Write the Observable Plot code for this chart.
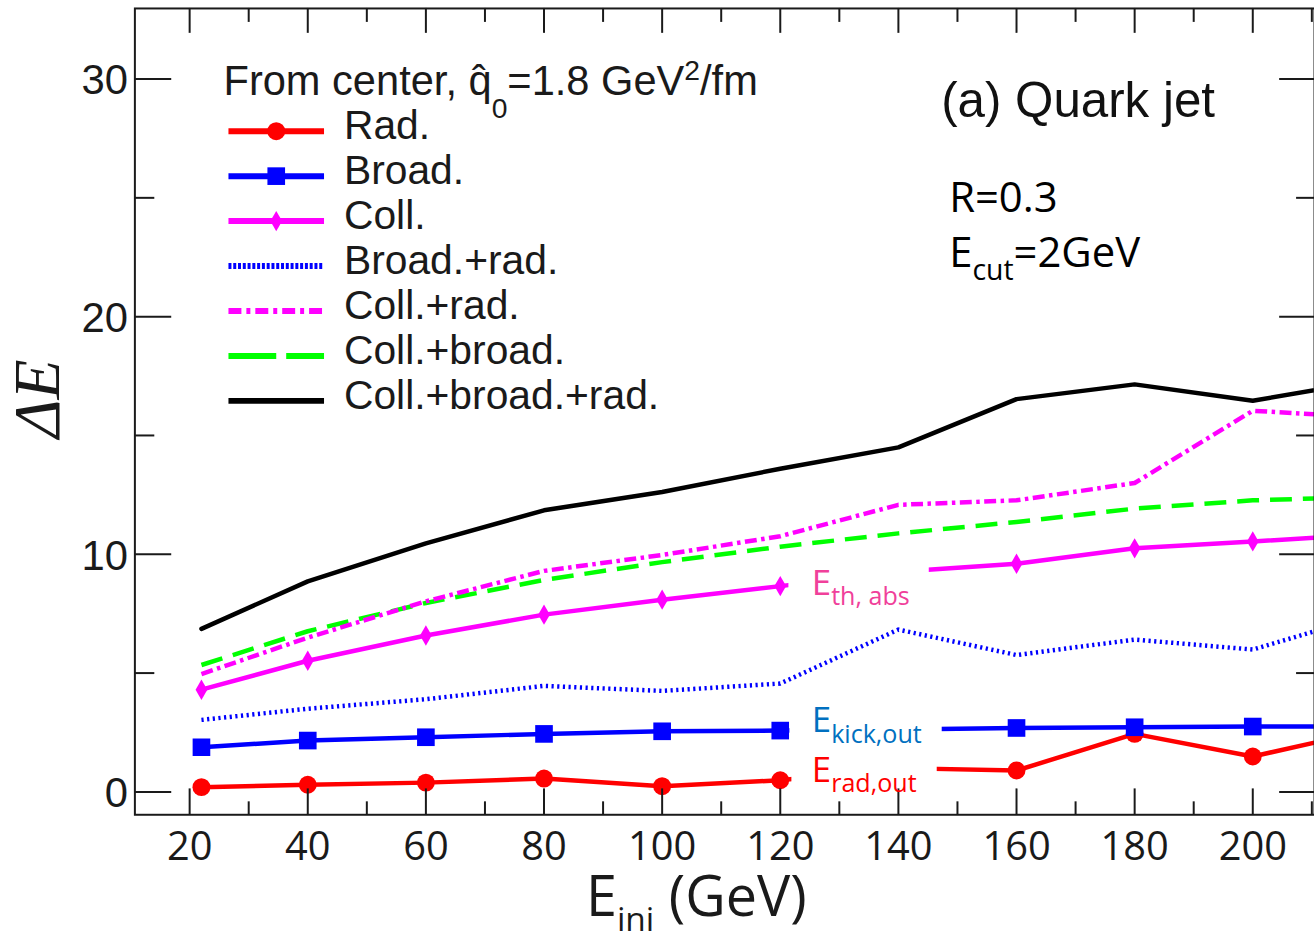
<!DOCTYPE html>
<html><head><meta charset="utf-8">
<script src="https://cdn.jsdelivr.net/npm/d3@7"></script>
<script src="https://cdn.jsdelivr.net/npm/@observablehq/plot@0.6"></script>
<style>
html,body{margin:0;padding:0;background:#fff;overflow:hidden;width:1314px;height:940px;}
#chart{position:relative;width:1314px;height:940px;overflow:hidden;}
</style></head><body><div id="chart"></div>
<script>
// ---- data ----
const energies      = [22, 40, 60, 80, 100, 120, 140, 160, 180, 200, 220];
const rad           = [0.20, 0.30, 0.39, 0.56, 0.24, 0.49, 1.00, 0.90, 2.44, 1.49, 2.61];
const broad         = [1.88, 2.16, 2.30, 2.44, 2.55, 2.58, 2.63, 2.69, 2.72, 2.75, 2.76];
const coll          = [4.30, 5.52, 6.58, 7.46, 8.09, 8.66, 9.26, 9.60, 10.25, 10.54, 10.83];
const broadRad      = [3.03, 3.50, 3.90, 4.46, 4.25, 4.56, 6.83, 5.76, 6.41, 5.99, 7.46];
const collRad       = [4.96, 6.49, 8.02, 9.30, 9.97, 10.76, 12.08, 12.27, 13.00, 16.04, 15.75];
const collBroad     = [5.34, 6.76, 7.95, 8.92, 9.67, 10.32, 10.88, 11.36, 11.92, 12.27, 12.42];
const collBroadRad  = [6.86, 8.86, 10.46, 11.85, 12.62, 13.60, 14.50, 16.53, 17.15, 16.46, 17.32];

const seriesNames = ["Rad.", "Broad.", "Coll.", "Broad.+rad.", "Coll.+rad.", "Coll.+broad.", "Coll.+broad.+rad."];
const seriesValues = [rad, broad, coll, broadRad, collRad, collBroad, collBroadRad];

const xTicks = [20, 40, 60, 80, 100, 120, 140, 160, 180, 200];
const xMinorTicks = [30, 50, 70, 90, 110, 130, 150, 170, 190, 210];
const xTickLabels = ["20", "40", "60", "80", "100", "120", "140", "160", "180", "200"];
const yTicks = [0, 10, 20, 30];
const yMinorTicks = [5, 15, 25];
const yTickLabels = ["0", "10", "20", "30"];

// ---- styles ----
const styles = [
  {stroke: "#ff0000", dash: null, legendDash: null, symbol: "circle", r: 9},
  {stroke: "#0000ff", dash: null, legendDash: null, symbol: "square", r: 10},
  {stroke: "#ff00ff", dash: null, legendDash: null, symbol: "diamond", r: 6.2},
  {stroke: "#0000ff", dash: "2.2,3.5", legendDash: "3,1.8", symbol: null},
  {stroke: "#ff00ff", dash: "12,4.5,3.5,4.5", legendDash: "13,5,4,5", symbol: null},
  {stroke: "#00ff00", dash: "22,11", legendDash: "48,10", symbol: null},
  {stroke: "#000000", dash: null, legendDash: null, symbol: null}
];
const drawOrder = [6, 5, 4, 3, 0, 1, 2];

// ---- layout ----
const W = 1320, H = 940, L = 135, R = W, T = 8, B = 818;
const xDomain = [10.73, 210.45];
const yDomain = [-0.963, 32.97];
const X = Plot.scale({x: {domain: xDomain, range: [L, R]}});
const Y = Plot.scale({y: {domain: yDomain, range: [B, T]}});
const ink = "#1a1a1a";

const rows = [];
seriesNames.forEach((name, i) => energies.forEach((e, j) => rows.push({series: i, name, E: e, v: seriesValues[i][j]})));

const marks = [];

// series lines and markers
for (const i of drawOrder) {
  const s = styles[i];
  const data = rows.filter(d => d.series === i);
  marks.push(Plot.line(data, {x: "E", y: "v", stroke: s.stroke, strokeWidth: 4.5,
    strokeDasharray: s.dash || undefined, strokeLinecap: s.dash ? "butt" : "round", clip: true}));
  if (s.symbol) marks.push(Plot.dot(data, {x: "E", y: "v", symbol: s.symbol, r: s.r, fill: s.stroke, stroke: "none", clip: true}));
}

// white boxes behind in-plot labels
const boxes = [[792, 933, 614, 562], [793, 946, 752, 705], [795, 941, 803, 756]];
for (const [a, b, c, d] of boxes)
  marks.push(Plot.rect([0], {x1: X.invert(a), x2: X.invert(b), y1: Y.invert(c), y2: Y.invert(d), fill: "white"}));

// frame & ticks
marks.push(Plot.frame({stroke: ink, strokeWidth: 2}));
const tk = {stroke: ink, strokeWidth: 2};
marks.push(Plot.ruleX(xTicks, {x: d => d, y1: Y.invert(B), y2: Y.invert(B - 26), ...tk}));
marks.push(Plot.ruleX(xMinorTicks, {x: d => d, y1: Y.invert(B), y2: Y.invert(B - 13), ...tk}));
marks.push(Plot.ruleX(xTicks, {x: d => d, y1: Y.invert(T), y2: Y.invert(T + 25), ...tk}));
marks.push(Plot.ruleX(xMinorTicks, {x: d => d, y1: Y.invert(T), y2: Y.invert(T + 14), ...tk}));
marks.push(Plot.ruleY(yTicks, {y: d => d, x1: X.invert(L), x2: X.invert(L + 37), ...tk}));
marks.push(Plot.ruleY(yMinorTicks, {y: d => d, x1: X.invert(L), x2: X.invert(L + 20), ...tk}));
marks.push(Plot.ruleY(yTicks, {y: d => d, x1: X.invert(R - 35), x2: X.invert(R), ...tk}));
marks.push(Plot.ruleY(yMinorTicks, {y: d => d, x1: X.invert(R - 18), x2: X.invert(R), ...tk}));

// tick labels
marks.push(Plot.text(xTicks, {x: d => d, text: (d, i) => xTickLabels[i], frameAnchor: "bottom", dy: 45,
  lineAnchor: "bottom", textAnchor: "middle", fontSize: 40, fontFamily: "Open Sans", fill: ink}));
marks.push(Plot.text(yTicks, {y: d => d, text: (d, i) => yTickLabels[i], frameAnchor: "left", dx: -7, dy: 15.5,
  lineAnchor: "bottom", textAnchor: "end", fontSize: 42, fontFamily: "Liberation Sans", fill: ink}));

// axis titles
marks.push(Plot.text(["ΔE"], {text: d => d, frameAnchor: "top-left", dx: 38 - L, dy: 400 - T, rotate: -90,
  textAnchor: "middle", lineAnchor: "middle", fontSize: 66, fontFamily: "Liberation Serif", fontStyle: "italic", fill: ink}));
marks.push(Plot.text(["E_{ini|0.6|0.27} (GeV)"], {text: d => d, frameAnchor: "top-left", dx: 699 - L, dy: 920 - T,
  textAnchor: "middle", lineAnchor: "bottom", fontSize: 56, fontFamily: "Open Sans", fill: ink}));

// legend
const legTitle = "From center, q\u0302_{0|0.68|0.54}=1.8 GeV^{2|0.68|0.37}/fm";
marks.push(Plot.text([legTitle], {text: d => d, frameAnchor: "top-left", dx: 224 - L, dy: 95 - T,
  textAnchor: "start", lineAnchor: "bottom", fontSize: 41.8, fontFamily: "Liberation Sans", fill: ink}));
const rowBase = i => 139 + i * 45.15;
seriesNames.forEach((name, i) => {
  const s = styles[i];
  const yy = Y.invert(rowBase(i) - 7.7);
  marks.push(Plot.link([0], {x1: X.invert(229), x2: X.invert(325), y1: yy, y2: yy, stroke: s.stroke, strokeWidth: 6,
    strokeDasharray: s.legendDash || undefined, strokeLinecap: "butt"}));
  if (s.symbol) marks.push(Plot.dot([0], {x: X.invert(277), y: yy, symbol: s.symbol, r: s.r, fill: s.stroke, stroke: "none"}));
  marks.push(Plot.text([name], {text: d => d, frameAnchor: "top-left", dx: 345 - L, dy: rowBase(i) - T,
    textAnchor: "start", lineAnchor: "bottom", fontSize: 41, fontFamily: "Liberation Sans", fill: ink}));
});

// annotations
marks.push(Plot.text(["(a) Quark jet"], {text: d => d, frameAnchor: "top-left", dx: 945 - L, dy: 117 - T,
  textAnchor: "start", lineAnchor: "bottom", fontSize: 49.5, fontFamily: "Liberation Sans", fill: "#111"}));
marks.push(Plot.text(["R=0.3"], {text: d => d, frameAnchor: "top-left", dx: 953 - L, dy: 212 - T,
  textAnchor: "start", lineAnchor: "bottom", fontSize: 42, fontFamily: "Open Sans", fill: "#000"}));
marks.push(Plot.text(["E_{cut|0.68|0.3}=2GeV"], {text: d => d, frameAnchor: "top-left", dx: 953 - L, dy: 268 - T,
  textAnchor: "start", lineAnchor: "bottom", fontSize: 42, fontFamily: "Open Sans", fill: "#000"}));
const labels = [["E_{th, abs|0.72|0.3}", "#f0409a", 597], ["E_{kick,out|0.72|0.3}", "#0070c0", 735], ["E_{rad,out|0.72|0.3}", "#ff0000", 785]];
for (const [txt, col, base] of labels)
  marks.push(Plot.text([txt], {text: d => d, frameAnchor: "top-left", dx: 815 - L, dy: base - T,
    textAnchor: "start", lineAnchor: "bottom", fontSize: 35, fontFamily: "Open Sans", fill: col}));

const chart = Plot.plot({
  width: W, height: H,
  marginTop: T, marginBottom: H - B, marginLeft: L, marginRight: 0,
  x: {domain: xDomain, axis: null},
  y: {domain: yDomain, axis: null},
  style: {background: "white", overflow: "hidden"},
  marks
});
document.getElementById("chart").appendChild(chart);

// sub/superscript rendering: _{text|size|shift} and ^{text|size|shift}
function richify(root) {
  root.querySelectorAll("text").forEach(t => {
    const s = t.textContent;
    if (!/[_^]\{/.test(s)) return;
    const fs = parseFloat(getComputedStyle(t).fontSize);
    while (t.firstChild) t.removeChild(t.firstChild);
    const add = (txt, size, dy) => {
      const ts = document.createElementNS("http://www.w3.org/2000/svg", "tspan");
      ts.textContent = txt;
      if (size) ts.setAttribute("font-size", size);
      if (dy) ts.setAttribute("dy", dy);
      t.appendChild(ts);
    };
    const re = /([_^])\{([^}]*)\}/g;
    let m, last = 0, shift = 0;
    while ((m = re.exec(s))) {
      if (m.index > last) { add(s.slice(last, m.index), null, -shift); shift = 0; }
      const parts = m[2].split("|");
      const sz = parts[1] ? +parts[1] : 0.7, sh = parts[2] ? +parts[2] : 0.32;
      const target = (m[1] === "_" ? 1 : -1) * sh * fs;
      add(parts[0], sz * fs, target - shift);
      shift = target;
      last = re.lastIndex;
    }
    if (last < s.length) add(s.slice(last), null, -shift);
  });
}
richify(chart);
</script></body></html>
